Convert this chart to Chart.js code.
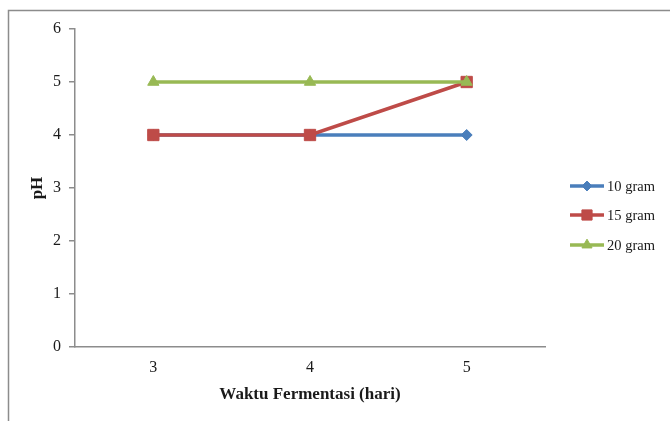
<!DOCTYPE html>
<html>
<head>
<meta charset="utf-8">
<script src="https://cdn.jsdelivr.net/npm/chart.js@4"></script>
<style>
html,body{margin:0;padding:0;background:#fff;}
#wrap{position:relative;width:670px;height:421px;}
</style>
</head>
<body>
<div id="wrap"><canvas id="c" width="670" height="421"></canvas></div>
<script>
const categories = ['3', '4', '5'];
const series10 = [4, 4, 4];
const series15 = [4, 4, 5];
const series20 = [5, 5, 5];
const seriesNames = ['10 gram', '15 gram', '20 gram'];
const yTicks = [0, 1, 2, 3, 4, 5, 6];
const xTitle = 'Waktu Fermentasi (hari)';
const yTitle = 'pH';

const FONT = '"Liberation Serif", "Times New Roman", serif';
const TXT = '#1a1a1a';

const borderPlugin = {
  id: 'outerBorder',
  beforeDraw(chart) {
    const ctx = chart.ctx;
    ctx.save();
    ctx.strokeStyle = '#8c8c8c';
    ctx.lineWidth = 1.5;
    ctx.strokeRect(8.5, 10.5, 700, 450);
    ctx.restore();
  }
};

const legendPlugin = {
  id: 'lineLegend',
  afterDraw(chart) {
    const ctx = chart.ctx;
    ctx.save();
    const x0 = 570, x1 = 604;
    const ys = [186, 215, 245];
    chart.data.datasets.forEach((ds, i) => {
      const y = ys[i];
      ctx.strokeStyle = ds.borderColor;
      ctx.lineWidth = ds.borderWidth;
      ctx.beginPath();
      ctx.moveTo(x0, y);
      ctx.lineTo(x1, y);
      ctx.stroke();
      ctx.fillStyle = ds.pointBackgroundColor;
      ctx.strokeStyle = ds.pointBorderColor;
      ctx.lineWidth = 1;
      Chart.helpers.drawPoint(ctx, {
        pointStyle: ds.pointStyle,
        radius: ds.pointRadius * 0.9,
        borderWidth: 1
      }, (x0 + x1) / 2, y);
      ctx.fillStyle = TXT;
      ctx.font = '14.5px ' + FONT;
      ctx.textBaseline = 'middle';
      ctx.textAlign = 'left';
      ctx.fillText(ds.label, x1 + 3, y + 1);
    });
    ctx.restore();
  }
};

function mkDs(label, data, color, style, radius, order) {
  return {
    label, data,
    borderColor: color,
    backgroundColor: color,
    pointBackgroundColor: color,
    pointBorderColor: color,
    borderWidth: 3.5,
    pointStyle: style,
    pointRadius: radius,
    pointHoverRadius: radius,
    pointBorderWidth: 1,
    tension: 0,
    order
  };
}

new Chart(document.getElementById('c'), {
  type: 'line',
  data: {
    labels: categories,
    datasets: [
      mkDs(seriesNames[0], series10, '#4A7EBB', 'rectRot', 5.5, 2),
      mkDs(seriesNames[1], series15, '#BE4B48', 'rect', 8, 1),
      mkDs(seriesNames[2], series20, '#98B954', 'triangle', 6.5, 0)
    ]
  },
  options: {
    responsive: false,
    animation: false,
    devicePixelRatio: 1,
    layout: { padding: { left: 0, top: 29, right: 125, bottom: 0 } },
    plugins: {
      legend: { display: false },
      tooltip: { enabled: false }
    },
    scales: {
      x: {
        type: 'category',
        offset: true,
        afterFit(scale) { scale.height = 74; },
        grid: {
          display: true,
          drawOnChartArea: false,
          drawTicks: false,
          tickLength: 0,
          color: '#8c8c8c'
        },
        border: { display: true, color: '#8c8c8c', width: 1.5 },
        ticks: {
          color: TXT,
          font: { family: FONT, size: 16 },
          padding: 11
        },
        title: {
          display: true,
          text: xTitle,
          color: TXT,
          font: { family: FONT, size: 17, weight: 'bold' },
          padding: { top: 4, bottom: 16 }
        }
      },
      y: {
        min: 0, max: 6,
        afterFit(scale) { scale.width = 75; },
        afterBuildTicks(scale) { scale.ticks = yTicks.map(v => ({ value: v })); },
        grid: {
          display: true,
          drawOnChartArea: false,
          drawTicks: true,
          tickLength: 6,
          color: '#8c8c8c',
          lineWidth: 1.5
        },
        border: { display: true, color: '#8c8c8c', width: 1.5 },
        ticks: {
          color: TXT,
          font: { family: FONT, size: 16 },
          padding: 8
        },
        title: {
          display: true,
          text: yTitle,
          color: TXT,
          font: { family: FONT, size: 17, weight: 'bold' },
          padding: { top: 27, bottom: 0 }
        }
      }
    }
  },
  plugins: [borderPlugin, legendPlugin]
});
</script>
</body>
</html>
